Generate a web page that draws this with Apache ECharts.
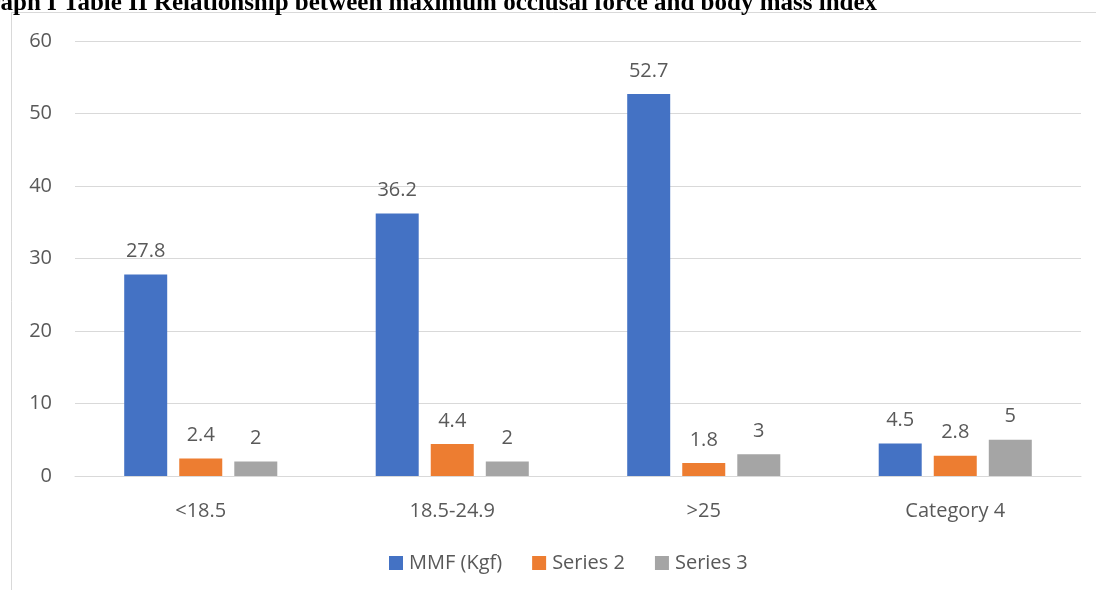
<!DOCTYPE html>
<html>
<head>
<meta charset="utf-8">
<script src="https://cdn.jsdelivr.net/npm/echarts@6/dist/echarts.min.js"></script>
<style>
  html, body { margin: 0; padding: 0; background: #fff; }
  #chart { width: 1096px; height: 590px; }
</style>
</head>
<body>
<div id="chart"></div>
<script>
// BMI groups and the three series plotted for each
const categories = ['<18.5', '18.5-24.9', '>25', 'Category 4'];
const mmfValues = [27.8, 36.2, 52.7, 4.5];
const series2Values = [2.4, 4.4, 1.8, 2.8];
const series3Values = [2, 2, 3, 5];
const seriesNames = ['MMF (Kgf)', 'Series 2', 'Series 3'];
const seriesColors = ['#4472C4', '#ED7D31', '#A5A5A5'];
const titleText = 'Graph I Table II Relationship between maximum occlusal force and body mass index';

const textColor = '#595959';
const font = '"Open Sans", "Noto Sans", sans-serif';

const chart = echarts.init(document.getElementById('chart'), null, { renderer: 'canvas' });

function barSeries(name, data, color) {
  return {
    name: name,
    type: 'bar',
    data: data,
    barWidth: 43,
    barGap: '28%',
    itemStyle: { color: color },
    label: {
      show: true,
      position: 'top',
      distance: 13,
      color: textColor,
      fontFamily: font,
      fontSize: 20
    }
  };
}

chart.setOption({
  animation: false,
  backgroundColor: '#fff',
  graphic: [
    // chart frame edges
    { type: 'line', shape: { x1: 11.5, y1: 12.5, x2: 1096, y2: 12.5 }, style: { stroke: '#d9d9d9', lineWidth: 1 } },
    { type: 'line', shape: { x1: 11.5, y1: 12.5, x2: 11.5, y2: 590 }, style: { stroke: '#d9d9d9', lineWidth: 1 } },
    {
      type: 'text',
      left: -30,
      top: -9,
      z: 10,
      style: {
        text: titleText,
        fill: '#000',
        font: 'bold 25px "Liberation Serif", "DejaVu Serif", serif'
      }
    }
  ],
  grid: { left: 75, right: 15, top: 41, bottom: 114, containLabel: false },
  legend: {
    top: 548,
    left: 384,
    itemWidth: 14,
    itemHeight: 14,
    itemGap: 30,
    icon: 'rect',
    textStyle: { color: textColor, fontFamily: font, fontSize: 20, padding: [0, 0, 0, 1] },
    data: seriesNames
  },
  xAxis: {
    type: 'category',
    data: categories,
    axisLine: { lineStyle: { color: '#d9d9d9', width: 1 } },
    axisTick: { show: false },
    axisLabel: { color: textColor, fontFamily: font, fontSize: 20, margin: 25 }
  },
  yAxis: {
    type: 'value',
    min: 0,
    max: 60,
    interval: 10,
    axisLine: { show: false },
    axisTick: { show: false },
    splitLine: { lineStyle: { color: '#d9d9d9', width: 1 } },
    axisLabel: { color: textColor, fontFamily: font, fontSize: 20, margin: 23 }
  },
  series: [
    barSeries(seriesNames[0], mmfValues, seriesColors[0]),
    barSeries(seriesNames[1], series2Values, seriesColors[1]),
    barSeries(seriesNames[2], series3Values, seriesColors[2])
  ]
});
</script>
</body>
</html>
